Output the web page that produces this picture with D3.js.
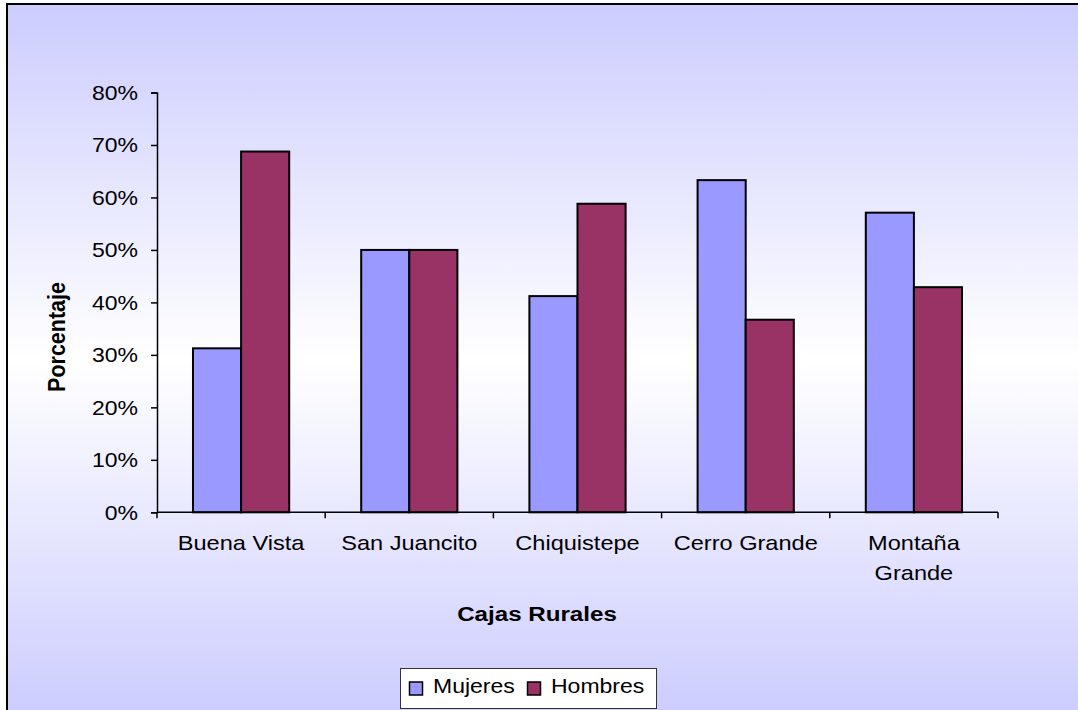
<!DOCTYPE html>
<html><head><meta charset="utf-8">
<script src="https://cdn.jsdelivr.net/npm/d3@7"></script>
<style>
html,body{margin:0;padding:0;background:#fff;overflow:hidden;}
svg{display:block;overflow:hidden;}
text{font-family:"Liberation Sans",Arial,sans-serif;fill:#000;}
</style></head>
<body>
<svg id="chart" width="1078" height="710"></svg>
<script>
const categories = ["Buena Vista", "San Juancito", "Chiquistepe", "Cerro Grande", "Montaña Grande"];
const categoryLines = [["Buena Vista"], ["San Juancito"], ["Chiquistepe"], ["Cerro Grande"], ["Montaña", "Grande"]];
const seriesNames = ["Mujeres", "Hombres"];
const mujeres = [0.3125, 0.50, 0.412, 0.633, 0.571];
const hombres = [0.6875, 0.50, 0.588, 0.367, 0.429];
const seriesColors = ["#9999FF", "#993366"];
const yTicks = [0, 0.1, 0.2, 0.3, 0.4, 0.5, 0.6, 0.7, 0.8];
const xTitle = "Cajas Rurales";
const yTitle = "Porcentaje";

(function(){
const SX = 1.15; // horizontal text stretch seen in the reference
const svg = d3.select("#chart");

// background gradient
const defs = svg.append("defs");
const grad = defs.append("linearGradient").attr("id","bg").attr("x1",0).attr("y1",0).attr("x2",0).attr("y2",1);
grad.append("stop").attr("offset","0%").attr("stop-color","#CCCCFF");
grad.append("stop").attr("offset","50%").attr("stop-color","#FFFFFF");
grad.append("stop").attr("offset","100%").attr("stop-color","#CCCCFF");
svg.append("rect").attr("x",7).attr("y",4).attr("width",1200).attr("height",712)
  .attr("fill","url(#bg)").attr("stroke","#000").attr("stroke-width",2);

const pLeft = 157, pRight = 998, pTop = 92.5, pBottom = 512.3;
const y = d3.scaleLinear().domain([0, 0.8]).range([pBottom, pTop]);
const x0 = d3.scaleBand().domain(categories).range([pLeft, pRight]).padding(0);
const bw = x0.bandwidth();
const x1 = d3.scaleBand().domain(seriesNames).range([bw*0.214, bw*0.786]).padding(0);

const data = categories.map((c,i)=>({cat:c, vals:[mujeres[i], hombres[i]]}));

// bars
const groups = svg.append("g").selectAll("g").data(data).join("g")
  .attr("transform", d=>`translate(${x0(d.cat)},0)`);
groups.selectAll("rect").data(d=>d.vals.map((v,j)=>({v, s:seriesNames[j], j})))
  .join("rect")
  .attr("x", d=>x1(d.s))
  .attr("y", d=>y(d.v))
  .attr("width", x1.bandwidth())
  .attr("height", d=>pBottom - y(d.v))
  .attr("fill", d=>seriesColors[d.j])
  .attr("stroke","#000").attr("stroke-width",2);

// y axis
const yAxis = svg.append("g").attr("transform",`translate(${pLeft},0)`)
  .call(d3.axisLeft(y).tickValues(yTicks).tickFormat(d3.format(".0%")).tickSize(6).tickPadding(0));
yAxis.select(".domain").attr("stroke","#000").attr("stroke-width",1.5);
yAxis.selectAll(".tick line").attr("stroke","#000").attr("stroke-width",1.5);
yAxis.selectAll(".tick text").attr("x", -19/SX).attr("dy","0.35em")
  .attr("transform",`scale(${SX},1)`)
  .style("font-size","20px").style("font-family",'"Liberation Sans",Arial,sans-serif').attr("fill","#000");

// x axis
const xAxis = svg.append("g").attr("transform",`translate(0,${pBottom})`);
xAxis.append("line").attr("x1",pLeft).attr("x2",pRight).attr("y1",0).attr("y2",0)
  .attr("stroke","#000").attr("stroke-width",1.5);
const boundaries = categories.map(c=>x0(c)).concat([pRight]);
xAxis.selectAll("line.tk").data(boundaries).join("line").attr("class","tk")
  .attr("x1",d=>d).attr("x2",d=>d).attr("y1",0).attr("y2",6)
  .attr("stroke","#000").attr("stroke-width",1.5);

// category labels
categories.forEach((c,i)=>{
  const cx = x0(c) + bw/2;
  categoryLines[i].forEach((ln,k)=>{
    svg.append("g").attr("transform",`translate(${cx},${550 + k*30}) scale(${SX},1)`)
      .append("text").attr("text-anchor","middle").style("font-size","20.5px").text(ln);
  });
});

// axis titles
svg.append("g").attr("transform",`translate(537,621) scale(${SX},1)`)
  .append("text").attr("text-anchor","middle").style("font-size","21px").style("font-weight","bold").text(xTitle);
svg.append("g").attr("transform",`translate(65,337) rotate(-90)`)
  .append("text").attr("text-anchor","middle").style("font-size","21.5px").style("font-weight","bold")
  .attr("transform",`scale(1,${SX})`).text(yTitle);

// legend
svg.append("rect").attr("x",400.5).attr("y",668.5).attr("width",256).attr("height",40)
  .attr("fill","#fff").attr("stroke","#333").attr("stroke-width",1);
const legendX = [409.5, 527.5];
seriesNames.forEach((s,j)=>{
  svg.append("rect").attr("x",legendX[j]).attr("y",682).attr("width",13).attr("height",13)
    .attr("fill",seriesColors[j]).attr("stroke","#000").attr("stroke-width",1.5);
  svg.append("g").attr("transform",`translate(${legendX[j]+23.5},693) scale(${SX},1)`)
    .append("text").style("font-size","20px").text(s);
});
})();
</script>
</body></html>
